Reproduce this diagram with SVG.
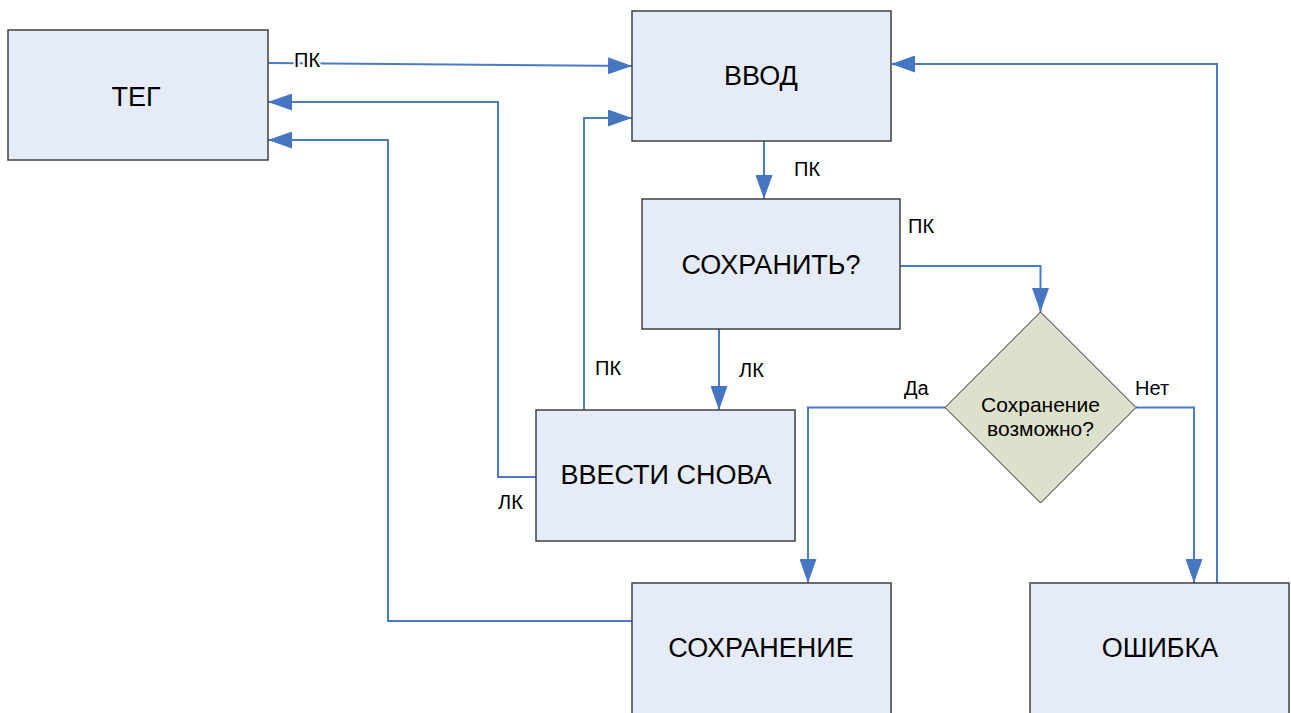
<svg xmlns="http://www.w3.org/2000/svg" width="1291" height="713" viewBox="0 0 1291 713">
<style>
.box{fill:#E6ECF7;stroke:#404040;stroke-width:1.5}
.dia{fill:#DDE0CB;stroke:#222;stroke-width:1}
.t{font-family:"Liberation Sans",Arial,sans-serif;font-size:27px;fill:#000;text-anchor:middle}
.td{font-family:"Liberation Sans",Arial,sans-serif;font-size:21px;fill:#000;text-anchor:middle}
.lbl{font-family:"Liberation Sans",Arial,sans-serif;font-size:20px;fill:#000}
.c{fill:none;stroke:#4A7BC4;stroke-width:2}
</style>
<defs>
<marker id="ah" markerUnits="userSpaceOnUse" markerWidth="24" markerHeight="17" refX="24" refY="8.5" orient="auto">
<path d="M0,0 L24,8.5 L0,17 z" fill="#4676C2"/>
</marker>
</defs>
<rect width="1291" height="713" fill="#fff"/>
<g id="connectors">
<path class="c" d="M268,63 L632,66" marker-end="url(#ah)"/>
<path class="c" d="M584,410 V118 H632" marker-end="url(#ah)"/>
<path class="c" d="M1217,583 V64 H891" marker-end="url(#ah)"/>
<path class="c" d="M764,141 V199" marker-end="url(#ah)"/>
<path class="c" d="M900,266 H1040.5 V312" marker-end="url(#ah)"/>
<path class="c" d="M719,329 V410" marker-end="url(#ah)"/>
<path class="c" d="M536,477 H498 V102 H268" marker-end="url(#ah)"/>
<path class="c" d="M632,621 H388 V140 H268" marker-end="url(#ah)"/>
<path class="c" d="M945,407.5 H808 V583" marker-end="url(#ah)"/>
<path class="c" d="M1136,407.5 H1194 V583" marker-end="url(#ah)"/>
<g class="lbl">
<text x="294" y="67" stroke="#fff" stroke-width="4" paint-order="stroke">ПК</text>
<text x="794" y="176">ПК</text>
<text x="908" y="233">ПК</text>
<text x="739" y="377">ЛК</text>
<text x="595" y="375">ПК</text>
<text x="498" y="509">ЛК</text>
<text x="904" y="395">Да</text>
<text x="1135" y="395">Нет</text>
</g>
</g>
<g id="teg">
<rect class="box" x="8" y="30" width="260" height="130"/>
<text class="t" x="136" y="106">ТЕГ</text>
</g>
<g id="vvod">
<rect class="box" x="632" y="11" width="259" height="130"/>
<text class="t" x="761" y="85">ВВОД</text>
</g>
<g id="sohranit">
<rect class="box" x="642" y="199" width="258" height="130"/>
<text class="t" x="771" y="274">СОХРАНИТЬ?</text>
</g>
<g id="vvesti-snova">
<rect class="box" x="536" y="410" width="259" height="131"/>
<text class="t" x="666" y="484">ВВЕСТИ СНОВА</text>
</g>
<g id="decision">
<polygon class="dia" points="1040.5,312 1136,407.5 1040.5,503 945,407.5"/>
<text class="td" x="1040.5" y="412">Сохранение</text>
<text class="td" x="1040.5" y="436">возможно?</text>
</g>
<g id="sohranenie">
<rect class="box" x="632" y="583" width="259" height="131"/>
<text class="t" x="761" y="657">СОХРАНЕНИЕ</text>
</g>
<g id="oshibka">
<rect class="box" x="1030" y="583" width="259" height="131"/>
<text class="t" x="1160" y="657">ОШИБКА</text>
</g>
</svg>
